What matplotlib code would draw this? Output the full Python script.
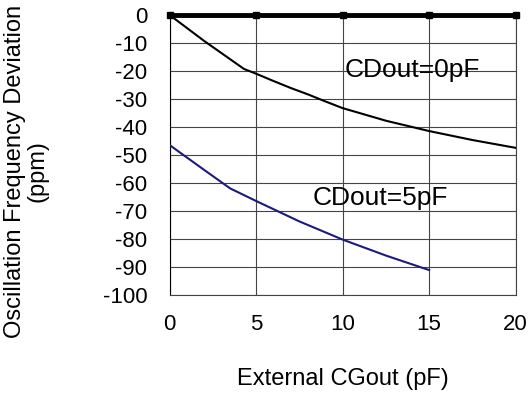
import matplotlib
matplotlib.use("Agg")
import matplotlib.pyplot as plt

plt.rcParams['font.family'] = ['Liberation Sans', 'DejaVu Sans']
plt.rcParams['axes.unicode_minus'] = False

# values
cg_0pf = [0, 2, 4.3, 5, 6, 7, 8, 9, 10, 12.5, 15, 17.5, 20]
dev_0pf = [0, -9.3, -19.3, -21, -23.6, -26.1, -28.4, -30.9, -33.3, -37.8, -41.5, -44.7, -47.5]
cg_5pf = [0, 2, 3.5, 5, 7.5, 10, 12.5, 15]
dev_5pf = [-46.5, -55.4, -62, -66.5, -73.8, -80.3, -86.0, -91.2]

xticks = [0, 5, 10, 15, 20]
yticks = list(range(0, -101, -10))

fig = plt.figure(figsize=(5.30, 3.94), dpi=100)
ax = fig.add_axes([0.32, 0.252, 0.653, 0.71])

ax.plot(cg_0pf, dev_0pf, color='black', lw=1.5, zorder=3)
ax.plot(cg_5pf, dev_5pf, color='#1a1a80', lw=1.5, zorder=3)

# thick zero line with square tick markers
ax.axhline(0, color='black', lw=3.5, zorder=4, clip_on=False)
ax.plot(xticks, [0] * len(xticks), 's', color='black', ms=4, zorder=5, clip_on=False)

ax.text(10.1, -19.7, 'CDout=0pF', fontsize=19, va='center', ha='left')
ax.text(8.25, -65.4, 'CDout=5pF', fontsize=19, va='center', ha='left')

ax.set_xlim(0, 20)
ax.set_ylim(-100, 0)
ax.set_xticks(xticks)
ax.set_yticks(yticks)
ax.grid(True, color='#444444', lw=0.8)
ax.tick_params(length=0, labelsize=16)
ax.tick_params(axis='x', pad=14)
ax.tick_params(axis='y', pad=16)
for s in ax.spines.values():
    s.set_color('#444444')
    s.set_linewidth(0.8)
ax.spines['left'].set_color('black')
ax.spines['top'].set_visible(False)

ax.set_xlabel('External CGout (pF)', fontsize=17, labelpad=24)
fig.text(0.05, 0.565, 'Oscillation Frequency Deviation\n(ppm)', fontsize=17,
         rotation=90, ha='center', va='center', multialignment='center',
         linespacing=1.0)

fig.savefig('out.png', dpi=100)
